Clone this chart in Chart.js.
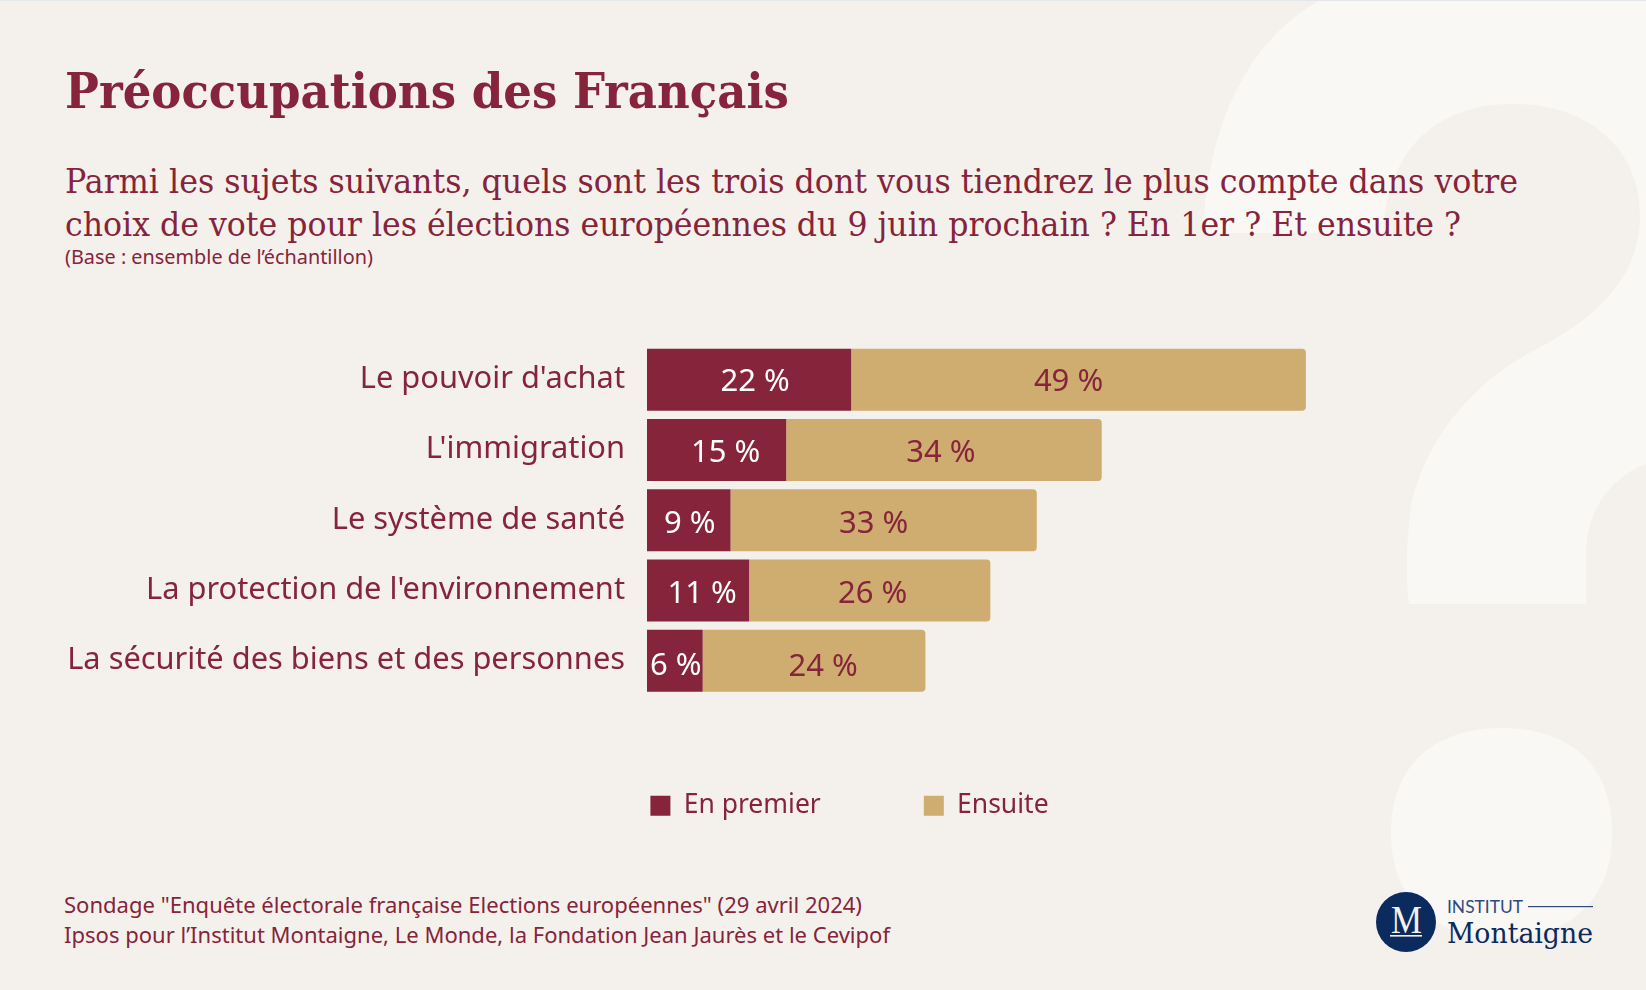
<!DOCTYPE html>
<html lang="fr">
<head>
<meta charset="utf-8">
<title>Préoccupations des Français</title>
<script src="https://cdn.jsdelivr.net/npm/chart.js@4"></script>
<style>
  html, body { margin: 0; background: #f4f1ec; }
  #page { position: relative; width: 1646px; height: 990px; overflow: hidden; }
  #page svg, #page canvas { position: absolute; left: 0; top: 0; }
  .serif { font-family: "DejaVu Serif Condensed", "DejaVu Serif", serif; }
  .sans { font-family: "Noto Sans", sans-serif; }
</style>
</head>
<body>
<div id="page">
  <svg width="1646" height="990" viewBox="0 0 1646 990">
    <!-- big question mark behind everything -->
    <path fill="#f9f8f4" d="M1203,233 C1208,120 1250,40 1320,0 L1646,0 L1646,464 C1610,478 1586,510 1586,555 L1586,604 L1409,604 C1405,575 1407,530 1412,500 C1430,430 1480,380 1529,353 C1600,318 1640,275 1640,215 C1640,150 1590,104 1513,104 C1455,104 1390,130 1383,233 Z"/>
    <path fill="#f9f8f4" d="M1391,833 C1391,760 1440,728 1501,728 C1565,728 1612,760 1612,833 C1612,905 1565,938 1501,938 C1440,938 1391,905 1391,833 Z"/>
    <rect x="0" y="0" width="1646" height="1" fill="#e3e6ea"/>

    <text class="serif" x="65" y="108" font-size="49" font-weight="700" fill="#85243a" textLength="724" lengthAdjust="spacingAndGlyphs">Préoccupations des Français</text>
    <text class="serif" x="65" y="193" font-size="33.5" fill="#85243a" textLength="1453" lengthAdjust="spacingAndGlyphs">Parmi les sujets suivants, quels sont les trois dont vous tiendrez le plus compte dans votre</text>
    <text class="serif" x="65" y="236" font-size="33.5" fill="#85243a" textLength="1396" lengthAdjust="spacingAndGlyphs">choix de vote pour les élections européennes du 9 juin prochain ? En 1er ? Et ensuite ?</text>
    <text class="sans" x="65" y="264" font-size="19" fill="#85243a" textLength="308" lengthAdjust="spacingAndGlyphs">(Base : ensemble de l’échantillon)</text>

    <text class="sans" x="64" y="913" font-size="22" fill="#85243a" textLength="798" lengthAdjust="spacingAndGlyphs">Sondage "Enquête électorale française Elections européennes" (29 avril 2024)</text>
    <text class="sans" x="64" y="943" font-size="22" fill="#85243a" textLength="826" lengthAdjust="spacingAndGlyphs">Ipsos pour l’Institut Montaigne, Le Monde, la Fondation Jean Jaurès et le Cevipof</text>

    <!-- logo -->
    <circle cx="1406" cy="922" r="30" fill="#0b2a5e"/>
    <text x="1391" y="933" font-family="Liberation Serif" font-size="39" fill="#f4f1ec" textLength="31" lengthAdjust="spacingAndGlyphs">M</text>
    <rect x="1390" y="935" width="32" height="1.6" fill="#f4f1ec"/>
    <text font-family="Lato" x="1447" y="913" font-size="18" fill="#2f4a7d" textLength="76" lengthAdjust="spacingAndGlyphs">INSTITUT</text>
    <rect x="1528" y="906" width="65" height="1.2" fill="#2f4a7d"/>
    <text class="serif" x="1447" y="943" font-size="27" fill="#0b2a5e" textLength="146" lengthAdjust="spacingAndGlyphs">Montaigne</text>
  </svg>
  <canvas id="myChart" width="1646" height="990"></canvas>
</div>

<script>
// Values
const categories = ['Le pouvoir d\'achat', 'L\'immigration', 'Le système de santé', 'La protection de l\'environnement', 'La sécurité des biens et des personnes'];
const enPremier = [22, 15, 9, 11, 6];
const ensuite = [49, 34, 33, 26, 24];

const wine = '#85243a';
const tan = '#cfac6f';

// Small nudges [x, y] of the value labels, the original ones are not quite centered
const nudges = [
    [[6, 3], [9, 3], [1, 4], [4, 4], [1, 5]],
    [[-10, 3], [-3, 3], [-10, 4], [3, 4], [9, 6]]
];

// Value labels inside the bars
const valueLabels = {
    id: 'valueLabels',
    afterDatasetsDraw(chart) {
        const ctx = chart.ctx;
        ctx.save();
        ctx.font = '31px "Noto Sans"';
        ctx.textAlign = 'center';
        ctx.textBaseline = 'middle';
        chart.data.datasets.forEach(function (dataset, d) {
            ctx.fillStyle = d === 0 ? '#ffffff' : wine;
            chart.getDatasetMeta(d).data.forEach(function (bar, i) {
                const x = (bar.x + bar.base) / 2 + nudges[d][i][0];
                ctx.fillText(dataset.data[i] + ' %', x, bar.y + nudges[d][i][1]);
            });
        });
        ctx.restore();
    }
};

// Legend sits lower than its box would put it
const legendSpot = {
    id: 'legendSpot',
    afterLayout(chart) {
        chart.legend.top = 689.5;
    }
};

const ctx = document.getElementById('myChart').getContext('2d');
const myChart = new Chart(ctx, {
    type: 'bar',
    data: {
        labels: categories,
        datasets: [{
            label: 'En premier',
            data: enPremier,
            backgroundColor: wine,
            borderWidth: 0
        }, {
            label: 'Ensuite',
            data: ensuite,
            backgroundColor: tan,
            borderWidth: 0,
            borderSkipped: false,
            borderRadius: { topRight: 4, bottomRight: 4 }
        }]
    },
    plugins: [valueLabels, legendSpot],
    options: {
        responsive: false,
        animation: false,
        indexAxis: 'y',
        categoryPercentage: 1,
        barPercentage: 0.882,
        layout: { padding: { left: 53, right: 0, top: 344.5, bottom: 154.5 } },
        scales: {
            x: {
                stacked: true,
                display: false,
                min: 0,
                max: 107.65
            },
            y: {
                stacked: true,
                afterFit(scale) { scale.width = 594; },
                border: { display: false },
                grid: { display: false, drawTicks: false },
                ticks: {
                    color: wine,
                    padding: 22,
                    labelOffset: -0.5,
                    font: { family: '"Noto Sans"', size: 30.8 }
                }
            }
        },
        plugins: {
            tooltip: { enabled: false },
            legend: {
                position: 'bottom',
                labels: {
                    boxWidth: 20,
                    boxHeight: 20,
                    padding: 103,
                    color: wine,
                    font: { family: '"Noto Sans"', size: 26.5, lineHeight: 1.1 }
                }
            }
        }
    }
});
</script>
</body>
</html>
